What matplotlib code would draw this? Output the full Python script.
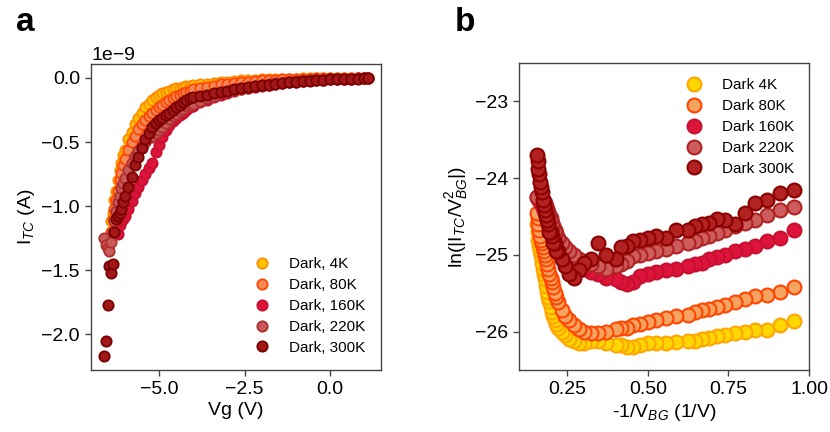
import numpy as np
import matplotlib
matplotlib.use("Agg")
import matplotlib.pyplot as plt

plt.rcParams['font.family'] = ['Liberation Sans', 'DejaVu Sans']
plt.rcParams['mathtext.fontset'] = 'custom'
plt.rcParams['mathtext.rm'] = 'Liberation Sans'
plt.rcParams['mathtext.it'] = 'Liberation Sans:italic'
plt.rcParams['axes.unicode_minus'] = True

# ---------------- Panel a data: Vg (V) and I_TC (nA) ----------------
vg = [-6.60, -6.55, -6.50, -6.45, -6.40, -6.35, -6.30, -6.25, -6.20, -6.15, -6.10, -6.05, -6.00,
      -5.90, -5.80, -5.70, -5.60, -5.50, -5.40, -5.30, -5.20, -5.10, -5.00, -4.90, -4.80, -4.70,
      -4.60, -4.50, -4.40, -4.30, -4.20, -4.10, -4.00,
      -3.80, -3.60, -3.40, -3.20, -3.00, -2.80, -2.60, -2.40, -2.20, -2.00, -1.80, -1.60, -1.40,
      -1.20, -1.00, -0.80, -0.60, -0.40, -0.20, 0.00, 0.20, 0.40, 0.60, 0.80, 1.00, 1.10]
nan = np.nan
i_4k = [nan, nan, nan, -1.25, -1.12, -1.05, -0.95, -0.88, -0.80, -0.72, -0.66, -0.60, -0.56,
        -0.48, -0.42, -0.36, -0.31, -0.27, -0.23, -0.20, -0.17, -0.15, -0.13, -0.12, -0.11, -0.10,
        -0.09, -0.08, -0.075, -0.07, -0.065, -0.06, -0.055,
        -0.05, -0.045, -0.04, -0.035, -0.03, -0.025, -0.02, -0.018, -0.015, -0.012, -0.01, -0.008, -0.007,
        -0.006, -0.005, -0.004, -0.003, -0.002, -0.002, -0.001, 0.0, 0.0, 0.0, 0.0, 0.0, 0.0]
i_80k = [nan, nan, nan, -1.28, -1.20, -1.10, -1.02, -0.95, -0.88, -0.80, -0.74, -0.68, -0.63,
         -0.56, -0.50, -0.45, -0.40, -0.36, -0.33, -0.30, -0.27, -0.25, -0.23, -0.21, -0.19, -0.17,
         -0.16, -0.14, -0.13, -0.12, -0.11, -0.10, -0.09,
         -0.08, -0.07, -0.06, -0.05, -0.045, -0.04, -0.035, -0.03, -0.025, -0.02, -0.017, -0.015, -0.012,
         -0.01, -0.008, -0.006, -0.005, -0.004, -0.003, -0.002, -0.001, 0.0, 0.0, 0.0, 0.0, 0.0]
i_160k = [nan, nan, nan, nan, nan, nan, nan, nan, -1.22, -1.15, -1.12, -1.10, -1.08,
          -1.02, -0.96, -0.90, -0.85, -0.80, -0.75, -0.70, -0.66, -0.58, -0.52, -0.46, -0.41, -0.37,
          -0.34, -0.31, -0.29, -0.27, -0.25, -0.23, -0.22,
          -0.19, -0.17, -0.15, -0.13, -0.115, -0.10, -0.09, -0.08, -0.07, -0.06, -0.052, -0.045, -0.04,
          -0.034, -0.03, -0.025, -0.02, -0.017, -0.014, -0.011, -0.009, -0.007, -0.005, -0.004, -0.003, -0.002]
i_220k = [-1.25, -1.30, -1.33, -1.35, -1.28, -1.20, -1.12, -1.04, -0.97, -0.92, -0.86, -0.82, -0.78,
          -0.72, -0.66, -0.61, -0.57, -0.53, -0.50, -0.47, -0.45, -0.43, -0.41, -0.38, -0.35, -0.32,
          -0.30, -0.28, -0.26, -0.24, -0.22, -0.21, -0.20,
          -0.18, -0.16, -0.14, -0.12, -0.11, -0.095, -0.085, -0.075, -0.065, -0.055, -0.048, -0.042, -0.036,
          -0.031, -0.027, -0.023, -0.019, -0.016, -0.013, -0.01, -0.008, -0.006, -0.005, -0.004, -0.003, -0.002]
i_300k = [-2.17, -2.05, -1.77, -1.47, -1.52, -1.45, -1.20, -1.10, -1.08, -1.05, -1.02, -0.97, -0.92,
          -0.85, -0.77, -0.68, -0.62, -0.55, -0.48, -0.43, -0.38, -0.35, -0.33, -0.31, -0.29, -0.27,
          -0.25, -0.23, -0.21, -0.19, -0.17, -0.16, -0.15,
          -0.14, -0.13, -0.12, -0.11, -0.10, -0.09, -0.08, -0.07, -0.065, -0.058, -0.052, -0.046, -0.04,
          -0.035, -0.03, -0.026, -0.022, -0.018, -0.015, -0.012, -0.01, -0.008, -0.006, -0.005, -0.004, -0.003]

# ---------------- Panel b data: V_BG (V) and ln(|I/V^2|) ----------------
vbg = [-1.05, -1.10, -1.15, -1.20, -1.25, -1.30, -1.35, -1.40, -1.45, -1.50, -1.55, -1.60,
       -1.70, -1.80, -1.90, -2.00, -2.10, -2.20, -2.30, -2.40, -2.50,
       -2.70, -2.90, -3.10, -3.30, -3.50, -3.70, -3.90, -4.10, -4.30,
       -4.55, -4.65, -4.75, -4.85, -4.95, -5.05, -5.15, -5.25, -5.35, -5.45,
       -5.55, -5.65, -5.75, -5.85, -5.95, -6.05, -6.15, -6.25, -6.35, -6.45]
ln_4k = [-25.86, -25.92, -25.98, -25.98, -26.00, -26.02, -26.05, -26.06, -26.08, -26.10, -26.12, -26.12,
         -26.13, -26.15, -26.15, -26.15, -26.17, -26.20, -26.20, -26.18, -26.17,
         -26.15, -26.12, -26.12, -26.15, -26.15, -26.12, -26.10, -26.05, -26.00,
         -25.95, -25.90, -25.85, -25.80, -25.75, -25.68, -25.60, -25.55, -25.48, -25.40,
         -25.32, -25.25, -25.18, -25.10, -25.02, -24.95, -24.88, -24.80, -24.70, -24.60]
ln_80k = [-25.42, -25.48, -25.52, -25.54, -25.58, -25.62, -25.65, -25.68, -25.70, -25.72, -25.75, -25.78,
          -25.80, -25.82, -25.85, -25.88, -25.90, -25.92, -25.95, -25.95, -25.97,
          -26.00, -26.02, -26.02, -26.00, -25.97, -25.92, -25.85, -25.80, -25.72,
          -25.62, -25.55, -25.50, -25.42, -25.35, -25.30, -25.25, -25.18, -25.12, -25.05,
          -25.00, -24.95, -24.90, -24.85, -24.80, -24.75, -24.68, -24.60, -24.52, -24.45]
ln_160k = [-24.68, -24.78, -24.82, -24.88, -24.92, -24.95, -25.00, -25.03, -25.06, -25.10, -25.12, -25.15,
           -25.18, -25.20, -25.22, -25.25, -25.28, -25.35, -25.38, -25.35, -25.32,
           -25.30, -25.25, -25.22, -25.18, -25.12, -25.08, -25.02, -24.98, -24.92,
           -24.85, -24.80, -24.76, -24.72, -24.68, -24.64, -24.60, -24.56, -24.52, -24.48,
           -24.45, -24.42, -24.38, -24.35, -24.32, -24.30, -24.28, -24.27, -24.26, -24.25]
ln_220k = [-24.38, -24.42, -24.48, -24.55, -24.58, -24.62, -24.68, -24.72, -24.75, -24.78, -24.82, -24.85,
           -24.88, -24.92, -24.95, -24.97, -25.00, -25.02, -25.08, -25.12, -25.15,
           -25.18, -25.15, -25.12, -25.10, -25.05, -25.00, -24.95, -24.90, -24.85,
           -24.78, -24.72, -24.68, -24.62, -24.58, -24.52, -24.48, -24.44, -24.40, -24.36,
           -24.32, -24.30, -24.28, -24.26, -24.25, -24.24, -24.24, -24.25, -24.25, -24.25]
ln_300k = [-24.15, -24.20, -24.28, -24.33, -24.45, -24.60, -24.55, -24.53, -24.58, -24.60, -24.63, -24.68,
           -24.68, -24.78, -24.75, -24.78, -24.80, -24.82, -24.88, -24.90, -25.05,
           -25.00, -24.85, -25.05, -25.10, -25.20, -25.30, -25.25, -25.15, -25.05,
           -24.95, -24.95, -24.85, -24.85, -24.75, -24.70, -24.70, -24.60, -24.55, -24.48,
           -24.42, -24.35, -24.28, -24.18, -24.12, -24.05, -23.95, -23.88, -23.78, -23.70]

labels_a = ["Dark, 4K", "Dark, 80K", "Dark, 160K", "Dark, 220K", "Dark, 300K"]
labels_b = ["Dark 4K", "Dark 80K", "Dark 160K", "Dark 220K", "Dark 300K"]

fills_a = ["#FFC400", "#F08A5A", "#DC143C", "#C85A5A", "#A01818"]
edges_a = ["#FF8C00", "#FF4500", "#C8102E", "#B03030", "#7A0000"]
fills_b = ["#FFD700", "#F4A460", "#DC143C", "#CD5C5C", "#B22222"]
edges_b = ["#FFA500", "#FF4500", "#C8102E", "#B22222", "#8B0000"]

fig = plt.figure(figsize=(8.3, 4.32), dpi=100)
W, H = 830, 432
ax1 = fig.add_axes([91 / W, (H - 370) / H, 290 / W, 306 / H])
ax2 = fig.add_axes([519 / W, (H - 370) / H, 290 / W, 307 / H])

vg_arr = np.array(vg)
for ys, lab, fc, ec in zip([i_4k, i_80k, i_160k, i_220k, i_300k], labels_a, fills_a, edges_a):
    ax1.scatter(vg_arr, np.array(ys) * 1e-9, s=55, facecolor=fc, edgecolor=ec,
                linewidth=1.3, label=lab, zorder=3)

x_b = -1.0 / np.array(vbg)
for ys, lab, fc, ec in zip([ln_4k, ln_80k, ln_160k, ln_220k, ln_300k], labels_b, fills_b, edges_b):
    ax2.scatter(x_b, ys, s=100, facecolor=fc, edgecolor=ec, linewidth=1.5, label=lab, zorder=3)

for ax in (ax1, ax2):
    for sp in ax.spines.values():
        sp.set_color("#444444")
        sp.set_linewidth(1.0)
    ax.tick_params(axis='both', labelsize=14, length=4, width=1, color="#444444", pad=4)

ax1.set_xticks([-5.0, -2.5, 0.0])
ax1.set_yticks(np.array([0.0, -0.5, -1.0, -1.5, -2.0]) * 1e-9)
ax1.yaxis.get_offset_text().set_fontsize(14)
ax1.set_xlabel("Vg (V)", fontsize=14, labelpad=3)
ax1.set_ylabel("I$_{TC}$ (A)", fontsize=14, labelpad=3)
ax1.legend(loc="lower right", frameon=False, fontsize=11, handletextpad=0.8,
           borderaxespad=0.6, labelspacing=0.45, scatteryoffsets=[0.5])

ax2.set_xlim(0.1, 1.0)
ax2.set_ylim(-26.5, -22.5)
ax2.set_xticks([0.25, 0.5, 0.75, 1.0])
ax2.set_xticklabels(["0.25", "0.50", "0.75", "1.00"])
ax2.set_yticks([-26, -25, -24, -23])
ax2.set_xlabel("-1/V$_{BG}$ (1/V)", fontsize=14, labelpad=3)
ax2.set_ylabel("ln(|I$_{TC}$/V$_{BG}^{2}$|)", fontsize=14, labelpad=3)
ax2.legend(loc="upper right", frameon=False, fontsize=11, handletextpad=0.8,
           borderaxespad=0.6, labelspacing=0.45, scatteryoffsets=[0.5])

fig.text(16 / W, 1 - 31 / H, "a", fontsize=24, fontweight="bold", va="baseline", ha="left")
fig.text(455 / W, 1 - 31 / H, "b", fontsize=24, fontweight="bold", va="baseline", ha="left")

fig.savefig("out.png", dpi=100)
